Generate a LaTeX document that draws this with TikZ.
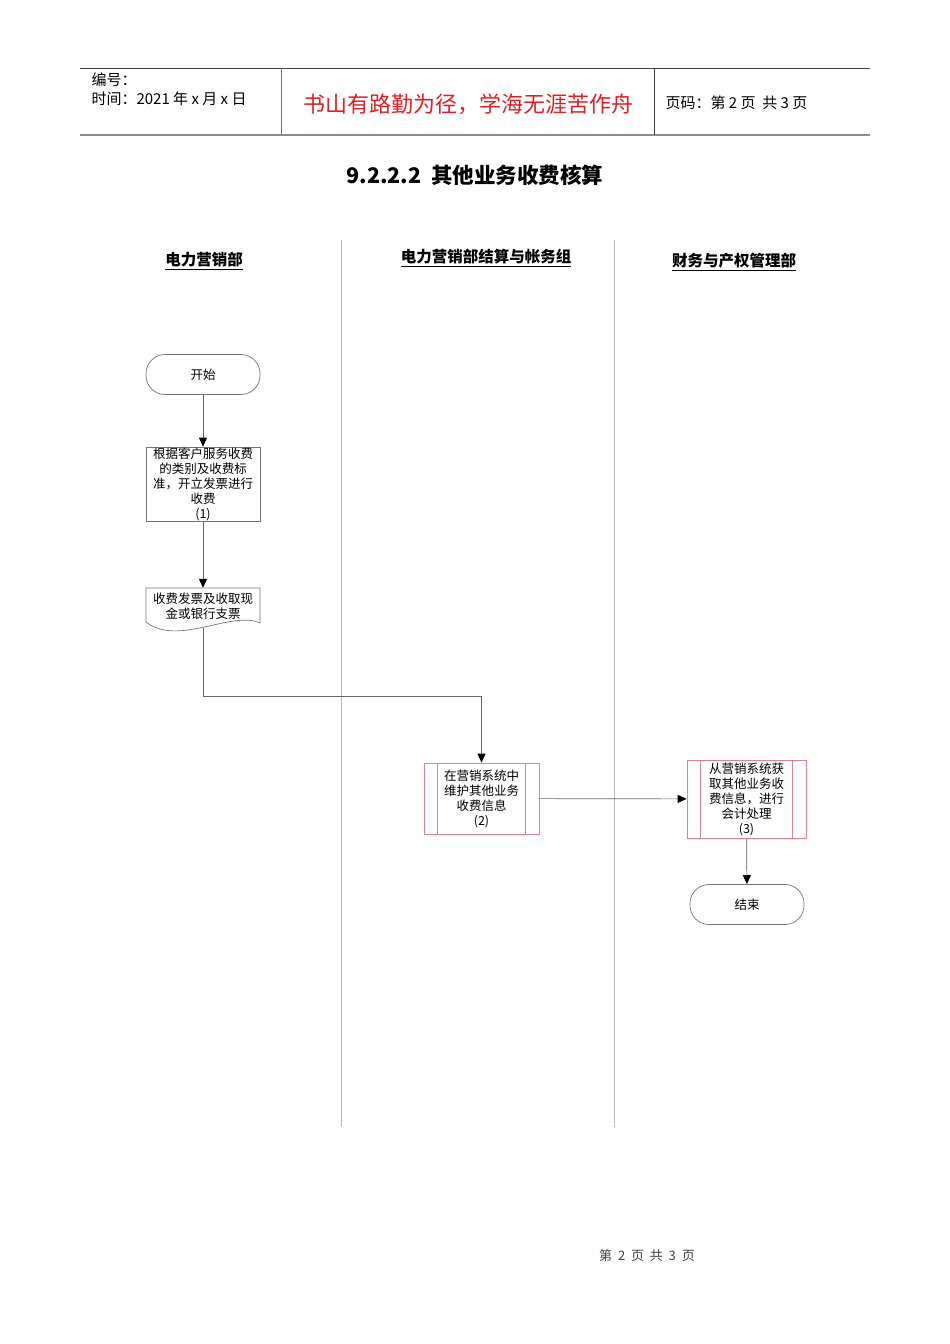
\documentclass[tikz,border=0pt]{standalone}
\usepackage{fontspec}
\setmainfont{Noto Sans CJK SC}
\usetikzlibrary{arrows.meta}

\definecolor{mottored}{RGB}{225,30,35}
\definecolor{subred}{RGB}{225,130,145}

\tikzset{
  lane/.style={draw=black!28, line width=0.9pt},
  lanehead/.style={font=\fontsize{15.5}{18}\selectfont\bfseries},
  nodetext/.style={font=\fontsize{12.5}{15}\selectfont, align=center, inner sep=0pt},
  terminal/.style={nodetext, draw=black!55, line width=0.7pt, rounded corners=19pt,
    minimum width=114pt, minimum height=40pt},
  procbox/.style={nodetext, draw=black!55, line width=0.7pt,
    minimum width=114pt, minimum height=74pt},
  subproc/.style={nodetext, draw=subred, line width=0.7pt},
  flow/.style={draw=black!60, line width=0.7pt, -{Triangle[width=8pt,length=9pt,color=black]}},
}

\begin{document}
\begin{tikzpicture}[x=1pt, y=-1pt]

% Parametry
\def\subgap{14}

\useasboundingbox (0,0) rectangle (950,1344);

% ---------- Naglowek strony ----------
\draw[black!75, line width=0.8pt] (80,68) -- (870,68);
\draw[black!45, line width=2pt] (80,135) -- (870,135);
\draw[black!55, line width=0.8pt] (281,68) -- (281,135);
\draw[black!75, line width=0.8pt] (654,68) -- (654,135);

\node[anchor=west, font=\fontsize{15}{18}\selectfont] (hdno) at (88,80) {编号：};
\node[anchor=west, font=\fontsize{15}{18}\selectfont] (hdtime) at (88,99) {时间：2021 年 x 月 x 日};
\node[font=\fontsize{22}{26}\selectfont, text=mottored] (motto) at (468,104) {书山有路勤为径，学海无涯苦作舟};
\node[anchor=west, font=\fontsize{15}{18}\selectfont] (hdpage) at (662,103) {页码：第 2 页\ \ 共 3 页};

% ---------- Tytul ----------
\node[font=\fontsize{21.5}{25}\selectfont\bfseries] (title) at (475,175) {9.2.2.2\ \ 其他业务收费核算};

% ---------- Tory ----------
\draw[lane] (341,240) -- (341,1127);
\draw[lane] (614,240) -- (614,1127);

\node[lanehead] (lane1) at (204,261) {\underline{电力营销部}};
\node[lanehead] (lane2) at (486,258) {\underline{电力营销部结算与帐务组}};
\node[lanehead] (lane3) at (734,262) {\underline{财务与产权管理部}};

% ---------- Wezly ----------
\node[terminal] (start) at (203,374.5) {开始};
\node[procbox] (p1) at (203,484) {根据客户服务收费\\的类别及收费标\\准，开立发票进行\\收费\\(1)};

% dokument z falistym dolem
\draw[black!55, line width=0.7pt] (146,588) -- (260,588) -- (260,623)
  .. controls (232,610) and (178,647) .. (146,622) -- cycle;
\node[nodetext, minimum width=114pt, minimum height=40pt, anchor=center] (doc) at (203,608)
  {\raisebox{6pt}{\begin{tabular}{@{}c@{}}收费发票及收取现\\金或银行支票\end{tabular}}};

\node[subproc, minimum width=115pt, minimum height=71pt] (b2) at (481.5,798.5)
  {在营销系统中\\维护其他业务\\收费信息\\(2)};
\draw[subred, line width=0.7pt] ([xshift=\subgap pt]b2.north west) -- ([xshift=\subgap pt]b2.south west);
\draw[subred, line width=0.7pt] ([xshift=-\subgap pt]b2.north east) -- ([xshift=-\subgap pt]b2.south east);

\node[subproc, minimum width=119pt, minimum height=78pt] (b3) at (746.5,799)
  {从营销系统获\\取其他业务收\\费信息，进行\\会计处理\\(3)};
\draw[subred, line width=0.7pt] ([xshift=\subgap pt]b3.north west) -- ([xshift=\subgap pt]b3.south west);
\draw[subred, line width=0.7pt] ([xshift=-\subgap pt]b3.north east) -- ([xshift=-\subgap pt]b3.south east);

\node[terminal] (end) at (747,904.5) {结束};

% ---------- Polaczenia ----------
\draw[flow] (start) -- (p1);
\draw[flow] (p1) -- (doc);
\draw[flow] (doc.south) -- ++(0,68) -| (b2.north);
\draw[flow] (b2) -- (b3);
\draw[flow] (b3) -- (end);

% ---------- Stopka ----------
\node[font=\fontsize{13}{16}\selectfont, text=black!75] (footer) at (647,1256) {第\ \ 2\ \ 页\ \ 共\ \ 3\ \ 页};

\end{tikzpicture}
\end{document}
